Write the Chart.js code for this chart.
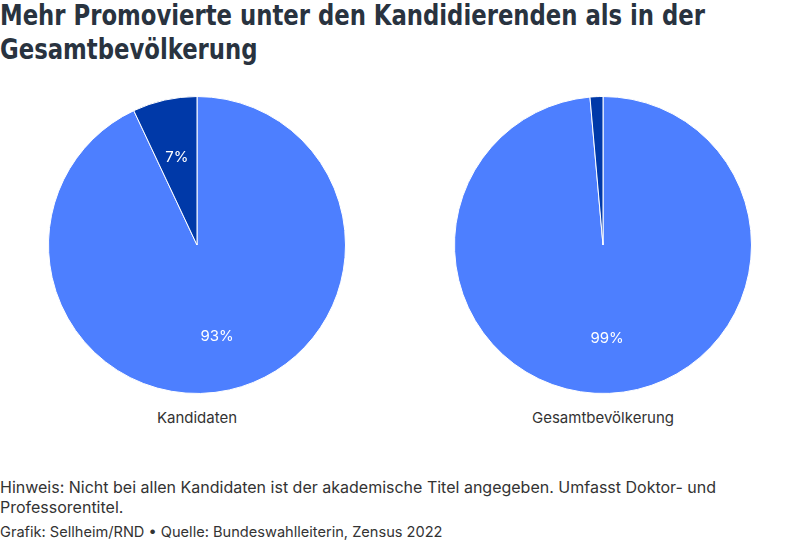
<!DOCTYPE html>
<html>
<head>
<meta charset="utf-8">
<script src="https://cdn.jsdelivr.net/npm/chart.js@4/dist/chart.umd.min.js"></script>
<style>
  html, body { margin: 0; padding: 0; background: #fff; }
  body { width: 800px; height: 542px; position: relative; overflow: hidden; font-family: Inter, "Noto Sans", sans-serif; }
  .tl { position: absolute; left: 0; white-space: nowrap; transform-origin: 0 0; font-family: "DejaVu Sans", sans-serif; font-stretch: condensed; font-weight: bold; font-size: 28px; line-height: 32px; color: #29333f; }
  .pie { position: absolute; top: 96px; width: 298px; height: 298px; }
  .cat { position: absolute; top: 408px; width: 300px; text-align: center; font-size: 15px; color: #333; }
  #note { position: absolute; left: 0; top: 477px; width: 790px; font-size: 16px; line-height: 20px; color: #333; }
  #source { position: absolute; left: 0; top: 523px; font-size: 14.6px; line-height: 18px; color: #333; }
</style>
</head>
<body>
<div class="tl" id="t1" style="top:0px">Mehr Promovierte unter den Kandidierenden als in der</div>
<div class="tl" id="t2" style="top:34px">Gesamtbevölkerung</div>
<div class="pie" style="left:48px"><canvas id="c1"></canvas></div>
<div class="pie" style="left:454px"><canvas id="c2"></canvas></div>
<div class="cat" style="left:47px">Kandidaten</div>
<div class="cat" style="left:453px">Gesamtbevölkerung</div>
<div id="note">Hinweis: Nicht bei allen Kandidaten ist der akademische Titel angegeben. Umfasst Doktor- und Professorentitel.</div>
<div id="source">Grafik: Sellheim/RND • Quelle: Bundeswahlleiterin, Zensus 2022</div>
<script>
const categories = ['Kandidaten', 'Gesamtbevölkerung'];
const segmentLabels = ['Ohne Doktor-/Professorentitel', 'Mit Doktor-/Professorentitel'];
const candidatesShare = [93, 7];
const populationShare = [98.6, 1.4];
const segmentColors = ['#4d7fff', '#0039a8'];

// fit title line width to reference (line 1 ≈ 705px wide)
(function fitTitle() {
  const t1 = document.getElementById('t1');
  const t2 = document.getElementById('t2');
  const w = t1.getBoundingClientRect().width;
  const s = 705 / w;
  t1.style.transform = 'scaleX(' + s + ')';
  t2.style.transform = 'scaleX(' + s + ')';
})();

const sliceLabels = {
  id: 'sliceLabels',
  afterDatasetsDraw(chart) {
    const ctx = chart.ctx;
    const meta = chart.getDatasetMeta(0);
    const data = chart.data.datasets[0].data;
    ctx.save();
    ctx.font = '15px Inter, sans-serif';
    ctx.fillStyle = '#ffffff';
    ctx.textAlign = 'center';
    ctx.textBaseline = 'middle';
    meta.data.forEach((arc, i) => {
      if (data[i] < 3) return;
      const p = arc.getProps(['x', 'y', 'startAngle', 'endAngle', 'outerRadius'], true);
      const mid = (p.startAngle + p.endAngle) / 2;
      const r = p.outerRadius * 0.62;
      ctx.fillText(Math.round(data[i]) + '%', p.x + Math.cos(mid) * r, p.y + Math.sin(mid) * r + 2);
    });
    ctx.restore();
  }
};

function makePie(id, values) {
  new Chart(document.getElementById(id), {
    type: 'pie',
    data: {
      labels: segmentLabels,
      datasets: [{
        data: values,
        backgroundColor: segmentColors,
        borderColor: '#ffffff',
        borderWidth: 1
      }]
    },
    options: {
      responsive: true,
      maintainAspectRatio: false,
      animation: false,
      layout: { padding: 0 },
      plugins: { legend: { display: false }, tooltip: { enabled: false } }
    },
    plugins: [sliceLabels]
  });
}
makePie('c1', candidatesShare);
makePie('c2', populationShare);
</script>
</body>
</html>
